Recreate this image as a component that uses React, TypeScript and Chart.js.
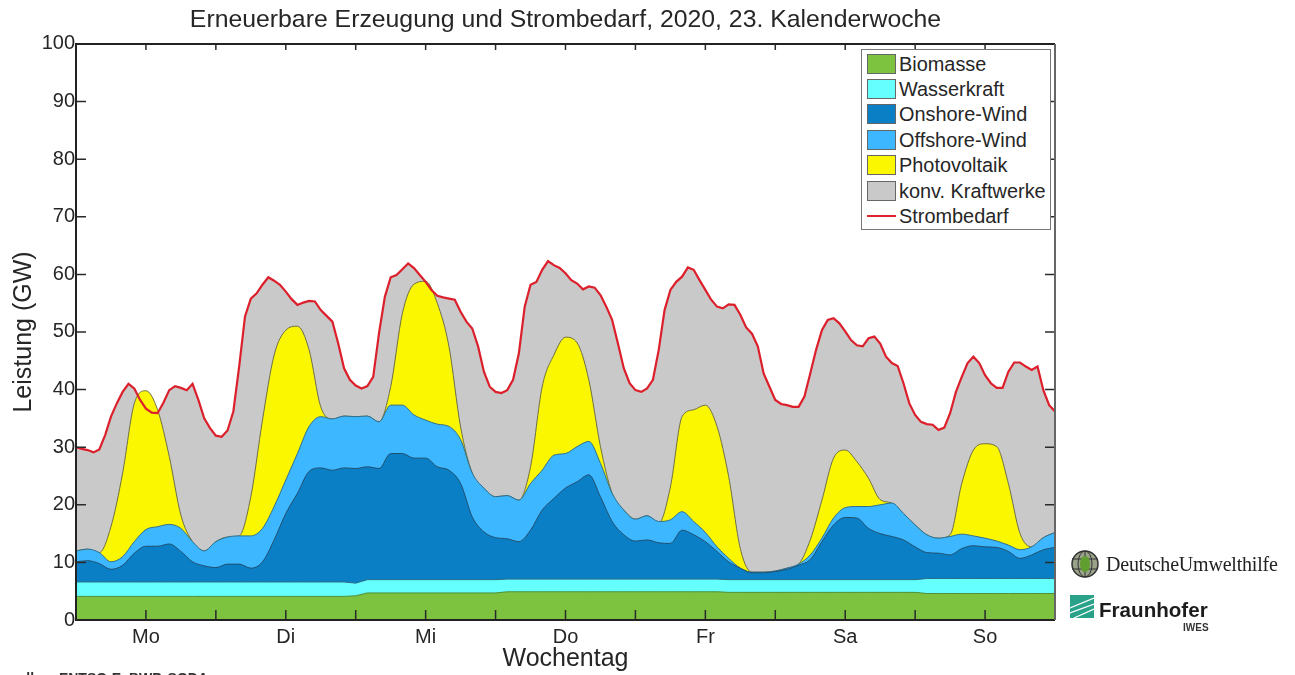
import React, { useEffect, useRef } from "react";
import { Chart, registerables } from "chart.js";

Chart.register(...registerables);

const titleText = "Erneuerbare Erzeugung und Strombedarf, 2020, 23. Kalenderwoche";
const dayLabels = ["Mo", "Di", "Mi", "Do", "Fr", "Sa", "So"];
const yTitle = "Leistung (GW)";
const xTitle = "Wochentag";
const sourceText = "Datenquellen: ENTSO-E, BWP, SODA";

// Upper edge of each band (GW), read every 2 hours from Monday 00:00
const biomasseTop = [4.1,4.1,4.1,4.1,4.1,4.1,4.1,4.1,4.1,4.1,4.1,4.1,4.1,4.1,4.1,4.1,4.1,4.1,4.1,4.1,4.1,4.1,4.1,4.1,4.2,4.7,4.7,4.7,4.7,4.7,4.7,4.7,4.7,4.7,4.7,4.7,4.7,4.9,4.9,4.9,4.9,4.9,4.9,4.9,4.9,4.9,4.9,4.9,4.9,4.9,4.9,4.9,4.9,4.9,4.9,4.9,4.8,4.8,4.8,4.8,4.8,4.8,4.8,4.8,4.8,4.8,4.8,4.8,4.8,4.8,4.8,4.8,4.8,4.6,4.6,4.6,4.6,4.6,4.6,4.6,4.6,4.6,4.6,4.6,4.6];
const wasserTop = [6.6,6.6,6.6,6.6,6.6,6.6,6.6,6.6,6.6,6.6,6.6,6.6,6.6,6.6,6.6,6.6,6.6,6.6,6.6,6.6,6.6,6.6,6.6,6.6,6.4,7.0,7.0,7.0,7.0,7.0,7.0,7.0,7.0,7.0,7.0,7.0,7.0,7.1,7.1,7.1,7.1,7.1,7.1,7.1,7.1,7.1,7.1,7.1,7.1,7.1,7.1,7.1,7.1,7.1,7.1,7.1,7.0,7.0,7.0,7.0,7.0,7.0,7.0,7.0,7.0,7.0,7.0,7.0,7.0,7.0,7.0,7.0,7.0,7.2,7.2,7.2,7.2,7.2,7.2,7.2,7.2,7.2,7.2,7.2,7.2];
const onshoreTop = [10.1,10.3,9.8,8.8,9.5,11.6,12.8,12.8,13.2,11.9,10.1,9.4,9.1,9.7,9.7,9.0,10.1,13.9,18.5,22.0,25.8,26.4,26.0,26.4,26.3,26.6,26.3,28.9,28.9,28.1,28.1,26.6,26.0,23.7,17.9,15.3,14.3,14.1,13.6,15.6,19.1,21.1,22.9,24.0,25.2,21.4,17.1,14.8,13.7,13.9,13.4,13.3,15.6,14.8,13.6,11.9,10.1,9.0,8.2,8.2,8.4,8.8,9.5,10.5,13.6,16.5,17.8,17.7,15.9,15.0,14.5,13.9,12.7,11.7,11.6,11.3,12.4,12.9,12.7,12.6,11.9,10.7,11.3,12.2,12.6];
const offshoreTop = [12.0,12.3,11.7,10.1,11.0,13.6,15.7,16.2,16.6,15.9,13.6,12.0,13.6,14.4,14.6,14.6,15.9,19.7,24.3,28.9,33.6,35.3,34.9,35.4,35.3,35.4,34.4,37.3,37.3,35.6,34.7,34.0,33.6,31.3,25.5,22.9,21.4,21.6,20.8,23.7,26.0,28.6,28.9,30.1,31.0,27.2,22.0,19.1,17.5,18.1,17.1,17.4,18.8,17.1,15.2,12.7,10.7,9.0,8.3,8.3,8.5,9.0,9.7,11.3,14.2,17.7,19.5,19.7,19.7,20.0,20.3,18.5,16.5,14.8,14.2,14.5,14.9,14.6,14.2,13.7,13.0,12.2,12.7,14.3,15.2];
const photovoltaikTop = [12.0,12.3,11.7,16.2,25.5,37.6,39.8,36.5,28.4,18.2,13.6,12.0,13.6,14.4,14.6,21.4,34.7,46.0,50.3,51.0,46.9,37.0,34.9,35.4,35.3,35.4,34.4,40.5,53.2,58.3,58.8,55.0,47.5,33.5,25.5,22.9,21.4,21.6,20.8,26.6,40.5,46.0,49.1,48.1,41.7,30.1,22.0,19.1,17.5,18.1,16.8,23.1,35.3,36.5,37.3,33.6,24.9,12.4,8.3,8.3,8.5,9.0,9.7,13.9,20.8,28.1,29.5,27.5,24.6,20.9,20.3,18.5,16.5,14.8,14.2,14.8,23.7,29.5,30.6,30.1,23.7,15.0,12.7,14.3,15.2];
// Hourly demand (GW) from Monday 00:00 to Sunday 24:00
const strombedarf = [30.0,29.7,29.5,29.1,29.6,32.1,35.3,37.6,39.6,41.0,40.2,38.2,36.7,36.0,35.9,37.7,39.9,40.6,40.3,39.9,41.0,38.2,35.0,33.3,32.0,31.8,32.9,36.2,44.0,52.7,55.8,56.7,58.2,59.5,58.9,58.2,57.0,55.7,54.7,55.1,55.4,55.3,53.8,52.8,51.8,48.0,43.7,41.7,40.7,40.2,40.6,42.2,49.8,56.1,59.5,59.9,60.9,61.9,61.1,59.9,58.7,57.3,56.3,56.0,55.8,55.6,53.5,51.8,50.6,47.5,43.1,40.5,39.6,39.4,39.9,41.7,46.3,54.4,58.2,58.7,60.8,62.3,61.6,61.1,60.2,59.0,58.4,57.4,57.9,57.7,56.4,54.4,52.1,48.0,43.7,41.1,39.9,39.6,40.2,41.7,46.9,53.8,57.3,58.7,59.6,61.2,60.8,59.0,57.3,55.6,54.4,54.1,54.8,54.7,53.0,50.8,49.7,47.5,42.8,40.5,38.2,37.5,37.3,37.0,37.0,38.8,42.8,46.9,50.3,52.1,52.4,51.5,50.1,48.6,47.7,47.5,48.9,49.2,48.0,45.7,44.6,44.1,41.1,37.6,35.6,34.4,34.0,33.9,33.0,33.4,35.9,39.6,42.2,44.6,45.7,44.6,42.5,41.1,40.3,40.3,43.1,44.7,44.7,44.0,43.4,44.0,39.9,37.3,36.2];

const legendNames = ["Biomasse", "Wasserkraft", "Onshore-Wind", "Offshore-Wind", "Photovoltaik", "konv. Kraftwerke", "Strombedarf"];
const legendColors = ["#7DC33F", "#66FFFF", "#0A7FC6", "#3DB7FF", "#FBF700", "#C9C9C9", "#E0222A"];

const FONT = '"Liberation Sans", Arial, sans-serif';
const TEXT = "#262626";

const toPoints = (values: number[], stepHours: number) =>
  values.map((y, i) => ({ x: i * stepHours, y }));

const frame = {
  id: "frame",
  afterDatasetsDraw(chart: any) {
    const { ctx, chartArea: a, scales } = chart;
    ctx.save();
    ctx.strokeStyle = "#2a2a2a";
    ctx.lineWidth = 1.5;
    ctx.beginPath();
    for (const t of scales.x.ticks) {
      if (t.value <= 0 || t.value >= 168) continue;
      const x = scales.x.getPixelForValue(t.value);
      ctx.moveTo(x, a.bottom); ctx.lineTo(x, a.bottom - 10);
      ctx.moveTo(x, a.top); ctx.lineTo(x, a.top + 6);
    }
    for (const t of scales.y.ticks) {
      if (t.value <= 0 || t.value >= 100) continue;
      const y = scales.y.getPixelForValue(t.value);
      ctx.moveTo(a.left, y); ctx.lineTo(a.left + 10, y);
      ctx.moveTo(a.right, y); ctx.lineTo(a.right - 10, y);
    }
    ctx.stroke();
    ctx.lineWidth = 2;
    ctx.strokeStyle = "#222";
    ctx.beginPath();
    ctx.moveTo(a.right, a.top); ctx.lineTo(a.left, a.top); ctx.lineTo(a.left, a.bottom); ctx.lineTo(a.right, a.bottom);
    ctx.stroke();
    ctx.strokeStyle = "#666";
    ctx.beginPath();
    ctx.moveTo(a.right, a.top); ctx.lineTo(a.right, a.bottom);
    ctx.stroke();
    ctx.restore();
  },
};

export default function App() {
  const ref = useRef<HTMLCanvasElement | null>(null);
  useEffect(() => {
    const band = (label: string, data: any[], color: string, border: string, order: number, smooth = false) => ({
      label, data, backgroundColor: color, borderColor: border, borderWidth: 1, fill: "origin", pointRadius: 0, tension: 0, order,
      ...(smooth ? { cubicInterpolationMode: "monotone" } : {}),
    });
    const chart = new Chart(ref.current as HTMLCanvasElement, {
      type: "line",
      data: {
        datasets: [
          { label: legendNames[6], data: toPoints(strombedarf, 1), borderColor: "#DC1F2B", borderWidth: 2.2, fill: false, pointRadius: 0, tension: 0, order: 0 },
          band(legendNames[0], toPoints(biomasseTop, 2), legendColors[0], "#4f8f3a", 1),
          band(legendNames[1], toPoints(wasserTop, 2), legendColors[1], "#2d6f80", 2),
          band(legendNames[2], toPoints(onshoreTop, 2), legendColors[2], "#22506f", 3, true),
          band(legendNames[3], toPoints(offshoreTop, 2), legendColors[3], "#2f6f8f", 4, true),
          band(legendNames[4], toPoints(photovoltaikTop, 2), legendColors[4], "#6f6f45", 5, true),
          { ...band(legendNames[5], toPoints(strombedarf, 1), legendColors[5], "rgba(0,0,0,0)", 6), borderWidth: 0 },
        ] as any,
      },
      plugins: [frame],
      options: {
        animation: false,
        responsive: false,
        parsing: false as any,
        normalized: true,
        layout: { padding: { left: 0, right: 76, top: 0, bottom: 0 } },
        plugins: {
          legend: { display: false },
          tooltip: { enabled: false },
          title: {
            display: true,
            text: titleText,
            color: TEXT,
            fullSize: false,
            font: { family: FONT, size: 24.8, weight: "normal" as any, lineHeight: 1.2 },
            padding: { top: 5, bottom: 9.2 },
          },
        },
        scales: {
          x: {
            type: "linear",
            min: 0,
            max: 168,
            grid: { display: false, drawTicks: false },
            border: { display: false },
            afterFit: (s: any) => { s.height = 55; },
            ticks: {
              stepSize: 12,
              autoSkip: false,
              maxRotation: 0,
              padding: 5,
              color: TEXT,
              font: { family: FONT, size: 20 },
              callback: (v: any) => (v % 24 === 12 ? dayLabels[(v - 12) / 24] : ""),
            },
            title: { display: true, text: xTitle, color: TEXT, font: { family: FONT, size: 25 }, padding: { top: 0, bottom: 1 } },
          },
          y: {
            min: 0,
            max: 100,
            grid: { display: false, drawTicks: false },
            border: { display: false },
            afterFit: (s: any) => { s.width = 76; },
            ticks: { stepSize: 10, padding: 1, color: TEXT, font: { family: FONT, size: 20 } },
            title: { display: true, text: yTitle, color: TEXT, font: { family: FONT, size: 25 }, padding: { top: 9, bottom: 0 } },
          },
        },
      } as any,
    });
    return () => chart.destroy();
  }, []);

  return (
    <div style={{ position: "fixed", left: 0, top: 0, width: 1295, height: 675, overflow: "hidden", background: "#fff", fontFamily: FONT, color: TEXT, filter: "blur(0.4px)" }}>
      <canvas ref={ref} width={1131} height={675} style={{ position: "absolute", left: 0, top: 0, width: 1131, height: 675 }} />
      <div style={{ position: "absolute", left: 861, top: 49, width: 190, height: 181, boxSizing: "border-box", background: "#fff", border: "1.5px solid #777" }}>
        {legendNames.map((name, i) => {
          const top = 3.5 + i * 25.4;
          return (
            <React.Fragment key={name}>
              {i < 6 ? (
                <div style={{ position: "absolute", left: 5, top, width: 29, height: 20, boxSizing: "border-box", background: legendColors[i], border: "1px solid #666" }} />
              ) : (
                <div style={{ position: "absolute", left: 5, top: top + 9, width: 29, height: 2, background: legendColors[i] }} />
              )}
              <div style={{ position: "absolute", left: 37, top: top - 1, fontSize: 19.9, lineHeight: "22px", whiteSpace: "nowrap" }}>{name}</div>
            </React.Fragment>
          );
        })}
      </div>
      <svg width={30} height={30} viewBox="0 0 30 30" style={{ position: "absolute", left: 1070, top: 549 }}>
        <circle cx={15} cy={15} r={13} fill="#9aa38a" stroke="#333" strokeWidth={1.5} />
        <ellipse cx={15} cy={15} rx={7} ry={13} fill="none" stroke="#333" strokeWidth={1} />
        <path d="M2 10H28M2 20H28M15 2V28" stroke="#333" strokeWidth={1} />
        <ellipse cx={15} cy={15} rx={5} ry={8} fill="#5f9e2f" />
      </svg>
      <div style={{ position: "absolute", left: 1106, top: 553, fontFamily: '"Liberation Serif", serif', fontSize: 20, lineHeight: "22px", letterSpacing: -0.2, whiteSpace: "nowrap", color: "#222" }}>DeutscheUmwelthilfe</div>
      <svg width={24} height={23} viewBox="0 0 24 23" style={{ position: "absolute", left: 1070, top: 595 }}>
        <rect width={24} height={23} fill="#2AA28A" />
        <path d="M0 13L24 3M0 18L24 9M4 23L24 14" stroke="#fff" strokeWidth={1.2} fill="none" />
      </svg>
      <div style={{ position: "absolute", left: 1099, top: 597, fontSize: 20.6, fontWeight: 700, lineHeight: "26px", whiteSpace: "nowrap", color: "#1c1c1c" }}>Fraunhofer</div>
      <div style={{ position: "absolute", left: 1183, top: 622, fontSize: 10, fontWeight: 700, lineHeight: "11px", whiteSpace: "nowrap", color: "#333" }}>IWES</div>
      <div style={{ position: "absolute", right: 1295 - 208, top: 670, fontSize: 14, fontWeight: 700, lineHeight: "16px", whiteSpace: "nowrap", color: "#333" }}>{sourceText}</div>
    </div>
  );
}
